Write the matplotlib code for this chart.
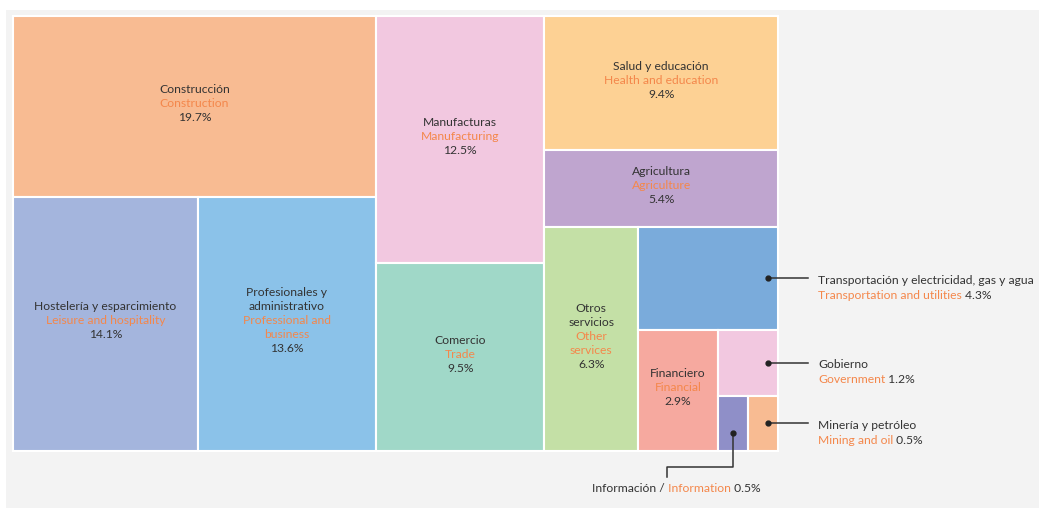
import matplotlib.pyplot as plt
from matplotlib.patches import Rectangle

plt.rcParams['font.family'] = ['Lato', 'DejaVu Sans']

# Employment share by sector (%)
sectors_es = ["Construcción", "Hostelería y esparcimiento", "Profesionales y\nadministrativo",
              "Manufacturas", "Comercio", "Salud y educación", "Agricultura", "Otros\nservicios",
              "Transportación y electricidad, gas y agua", "Financiero", "Gobierno",
              "Información", "Minería y petróleo"]
sectors_en = ["Construction", "Leisure and hospitality", "Professional and\nbusiness",
              "Manufacturing", "Trade", "Health and education", "Agriculture", "Other\nservices",
              "Transportation and utilities", "Financial", "Government",
              "Information", "Mining and oil"]
shares = [19.7, 14.1, 13.6, 12.5, 9.5, 9.4, 5.4, 6.3, 4.3, 2.9, 1.2, 0.5, 0.5]
colors = ['#f8bb92', '#a4b5dd', '#8bc2e9', '#f2c8e0', '#a0d8c8', '#fdd194', '#bfa5cf',
          '#c4e0a6', '#7aabdb', '#f6a99f', '#f2c8e0', '#8f8fc8', '#f8bb92']

# tile nesting: each level alternates between side by side and stacked
tree = [[0, [1, 2]], [3, 4], [5, 6, [7, [8, [9, [10, [11, 12]]]]]]]

DARK = '#333333'
ORANGE = '#f4874b'
FS = 8.7


def total(node):
    return shares[node] if isinstance(node, int) else sum(total(n) for n in node)


def place(node, x, y, w, h, across, out):
    if isinstance(node, int):
        out[node] = (x, y, w, h)
        return
    t = total(node)
    for child in node:
        f = total(child) / t
        if across:
            place(child, x, y, w * f, h, False, out)
            x += w * f
        else:
            place(child, x, y, w, h * f, True, out)
            y += h * f


fig = plt.figure(figsize=(10.39, 5.08), dpi=100)
fig.patch.set_facecolor('white')
ax = fig.add_axes([0, 0, 1, 1])
ax.set_xlim(0, 1039)
ax.set_ylim(508, 0)
ax.axis('off')

ax.add_patch(Rectangle((6, 10), 1033, 498, facecolor='#f3f3f3', edgecolor='none'))

rects = {}
place(tree, 13, 16, 765, 435, True, rects)

for i, (x, y, w, h) in rects.items():
    ax.add_patch(Rectangle((x, y), w, h, facecolor=colors[i], edgecolor='white', lw=1.5))

outside = {8, 10, 11, 12}
STEP = 14

for i, (x, y, w, h) in rects.items():
    if i in outside:
        continue
    lines = [(s, DARK) for s in sectors_es[i].split('\n')]
    lines += [(s, ORANGE) for s in sectors_en[i].split('\n')]
    lines.append((f"{shares[i]}%", DARK))
    cx, cy = x + w / 2, y + h / 2 - 3
    n = len(lines)
    for k, (s, c) in enumerate(lines):
        ax.text(cx, cy + (k - (n - 1) / 2) * STEP, s, color=c, fontsize=FS,
                ha='center', va='center')


def chain(parts, x, y, ha='left'):
    t = ax.text(x, y, parts[0][0], color=parts[0][1], fontsize=FS, ha=ha, va='center')
    for s, c in parts[1:]:
        t = ax.annotate(s, xy=(1, 0.5), xycoords=t, color=c, fontsize=FS,
                        ha='left', va='center')


# callouts for the small tiles on the right
for i in (8, 10, 12):
    x, y, w, h = rects[i]
    dx, dy = x + w - 10, y + h / 2
    ax.plot([dx, 808], [dy, dy], color='#333333', lw=1.1)
    ax.plot(dx, dy, 'o', color='#222222', ms=3.5)
    chain([(sectors_es[i], DARK)], 818, dy + 2)
    chain([(sectors_en[i], ORANGE), (f" {shares[i]}%", DARK)], 818, dy + 17)

x, y, w, h = rects[11]
dx, dy = x + w / 2, y + h / 2 + 10
ax.plot([dx, dx, 667, 667], [dy, 467, 467, 477], color='#333333', lw=1.1)
ax.plot(dx, dy, 'o', color='#222222', ms=3.5)
chain([(sectors_es[11] + " /", DARK), (" " + sectors_en[11], ORANGE),
       (f" {shares[11]}%", DARK)], 592, 489)

fig.savefig('out.png', dpi=100, facecolor='white')
